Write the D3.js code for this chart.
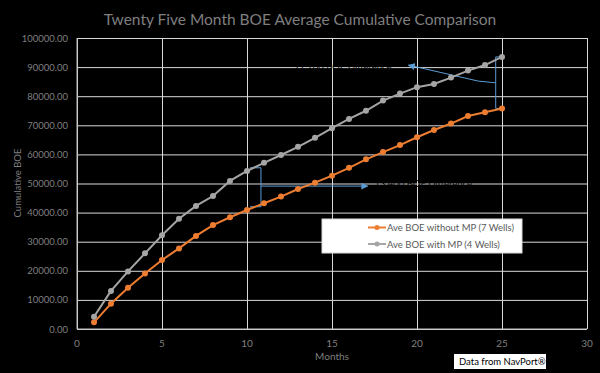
<!DOCTYPE html>
<html>
<head>
<meta charset="utf-8">
<script src="https://cdn.jsdelivr.net/npm/d3@7"></script>
<style>
  html, body { margin: 0; padding: 0; background: #000; }
  svg { display: block; font-family: Lato, "Open Sans", sans-serif; }
</style>
</head>
<body>
<svg class="viz"></svg>
<script>
var width = 600,
  height = 373;

var margin = { top: 38, left: 77, right: 13, bottom: 44 };

// months 1..25
var months = [];
for (let i = 1; i <= 25; i++) {
  months.push(i);
}

var without_mp = [2300, 8700, 14200, 19100, 23700, 27700, 32000, 35700, 38400, 40900,
  43200, 45500, 48100, 50300, 52700, 55400, 58300, 60800, 63200, 65900,
  68400, 70600, 73200, 74500, 75800];

var with_mp = [4200, 13100, 19800, 26000, 32200, 37900, 42300, 45700, 50900, 54300,
  57100, 59800, 62600, 65700, 69000, 72200, 75000, 78500, 80900, 83100,
  84200, 86400, 88800, 90700, 93500];

var series_names = ["Ave BOE without MP (7 Wells)", "Ave BOE with MP (4 Wells)"];
var series_colors = ["#ed7d31", "#a5a5a5"];

var x_ticks = [0, 5, 10, 15, 20, 25, 30];
var y_ticks = [0, 10000, 20000, 30000, 40000, 50000, 60000, 70000, 80000, 90000, 100000];

// callout labels (black text, mostly hidden on the black plot)
var callout_text = ["17,700 BOE Difference", "13,400 BOE Difference"];

var viz = d3.select(".viz")
  .attr("width", width)
  .attr("height", height);

var x = d3.scaleLinear().domain([0, 30]).range([margin.left, width - margin.right]);
var y = d3.scaleLinear().domain([0, 100000]).range([height - margin.bottom, margin.top]);

// title
viz.append("text")
  .attr("x", 300)
  .attr("y", 25)
  .attr("text-anchor", "middle")
  .attr("fill", "#7f7f7f")
  .attr("font-size", 15.5)
  .text("Twenty Five Month BOE Average Cumulative Comparison");

// grid
viz.append("g")
  .attr("transform", "translate(0," + y(0) + ")")
  .call(d3.axisBottom(x).tickValues(x_ticks).tickSize(-(y(0) - y(100000))).tickFormat(""))
  .call(g => g.select(".domain").remove())
  .selectAll("line").attr("stroke", "#d9d9d9");

viz.append("g")
  .attr("transform", "translate(" + x(0) + ",0)")
  .call(d3.axisLeft(y).tickValues(y_ticks).tickSize(-(x(30) - x(0))).tickFormat(""))
  .call(g => g.select(".domain").remove())
  .selectAll("line").attr("stroke", "#d9d9d9");

// axis lines
viz.append("line")
  .attr("x1", x(0)).attr("x2", x(0))
  .attr("y1", y(0)).attr("y2", y(100000))
  .attr("stroke", "#bfbfbf");
viz.append("line")
  .attr("x1", x(0)).attr("x2", x(30))
  .attr("y1", y(0)).attr("y2", y(0))
  .attr("stroke", "#bfbfbf");

// tick labels
viz.append("g").selectAll("text")
  .data(x_ticks)
  .enter()
  .append("text")
  .attr("x", d => x(d))
  .attr("y", y(0) + 18)
  .attr("text-anchor", "middle")
  .attr("fill", "#7f7f7f")
  .attr("font-size", 10)
  .text(d => d);

viz.append("g").selectAll("text")
  .data(y_ticks)
  .enter()
  .append("text")
  .attr("x", x(0) - 9)
  .attr("y", d => y(d) + 3.5)
  .attr("text-anchor", "end")
  .attr("fill", "#7f7f7f")
  .attr("font-size", 9.5)
  .text(d => d3.format(".2f")(d));

viz.append("text")
  .attr("x", 332)
  .attr("y", 360)
  .attr("text-anchor", "middle")
  .attr("fill", "#7f7f7f")
  .attr("font-size", 10)
  .text("Months");

viz.append("text")
  .attr("transform", "translate(21,183) rotate(-90)")
  .attr("text-anchor", "middle")
  .attr("fill", "#7f7f7f")
  .attr("font-size", 9.5)
  .text("Cumulative BOE");

// callouts
viz.append("defs").append("marker")
  .attr("id", "arrow")
  .attr("viewBox", "0 0 10 10")
  .attr("refX", 9).attr("refY", 5)
  .attr("markerWidth", 7).attr("markerHeight", 7)
  .attr("orient", "auto-start-reverse")
  .append("path")
  .attr("d", "M0,0L10,5L0,10z")
  .attr("fill", "#5b9bd5");

var line_px = d3.line().x(d => x(d[0])).y(d => y(d[1]));

var brackets = [
  [[25, 93500], [24.63, 93500], [24.63, 75800], [25, 75800]],
  [[10.18, 55400], [10.82, 55400], [10.82, 42000], [10.18, 42000]]
];
var leaders = [
  [[24.63, 84600], [23.6, 85200], [19.5, 90700]],
  [[10.82, 49100], [17.1, 49100]]
];

viz.append("g").selectAll("path")
  .data(brackets)
  .enter()
  .append("path")
  .attr("d", line_px)
  .attr("fill", "none")
  .attr("stroke", "#5b9bd5")
  .attr("stroke-width", 1);

viz.append("g").selectAll("path")
  .data(leaders)
  .enter()
  .append("path")
  .attr("d", line_px)
  .attr("fill", "none")
  .attr("stroke", "#5b9bd5")
  .attr("stroke-width", 1)
  .attr("marker-end", "url(#arrow)");

viz.append("text")
  .attr("x", x(18.5))
  .attr("y", y(90000) + 3)
  .attr("text-anchor", "end")
  .attr("fill", "#000")
  .attr("font-size", 9.5)
  .text(callout_text[0]);

viz.append("text")
  .attr("x", x(17.5))
  .attr("y", y(50000) + 3)
  .attr("fill", "#000")
  .attr("font-size", 9.5)
  .text(callout_text[1]);

// series
var all_series = [without_mp, with_mp];
var line = d3.line().x((d, i) => x(months[i])).y(d => y(d));

var groups = viz.selectAll("g.series")
  .data(all_series)
  .enter()
  .append("g")
  .attr("class", "series");

groups.append("path")
  .attr("d", d => line(d))
  .attr("fill", "none")
  .attr("stroke", (d, i) => series_colors[i])
  .attr("stroke-width", 2);

groups.each(function(d, si) {
  d3.select(this).selectAll("circle")
    .data(d)
    .enter()
    .append("circle")
    .attr("cx", (v, i) => x(months[i]))
    .attr("cy", v => y(v))
    .attr("r", 3)
    .attr("fill", series_colors[si]);
});

// legend
var legend = viz.append("g");
legend.append("rect")
  .attr("x", 322).attr("y", 219)
  .attr("width", 200).attr("height", 34)
  .attr("fill", "#fff")
  .attr("stroke", "#d9d9d9");

var items = legend.selectAll("g")
  .data(series_names)
  .enter()
  .append("g")
  .attr("transform", (d, i) => "translate(368," + (227.5 + i * 16.5) + ")");
items.append("line")
  .attr("x1", 0).attr("x2", 18)
  .attr("stroke", (d, i) => series_colors[i])
  .attr("stroke-width", 2);
items.append("circle")
  .attr("cx", 9).attr("r", 2.5)
  .attr("fill", (d, i) => series_colors[i]);
items.append("text")
  .attr("x", 19)
  .attr("y", 3.5)
  .attr("fill", "#595959")
  .attr("font-size", 9.5)
  .text(d => d);

// source box
viz.append("rect")
  .attr("x", 454).attr("y", 354)
  .attr("width", 92).attr("height", 15)
  .attr("fill", "#fff");
viz.append("text")
  .attr("x", 459)
  .attr("y", 365)
  .attr("fill", "#000")
  .attr("font-size", 9.5)
  .text("Data from NavPort®");
</script>
</body>
</html>
